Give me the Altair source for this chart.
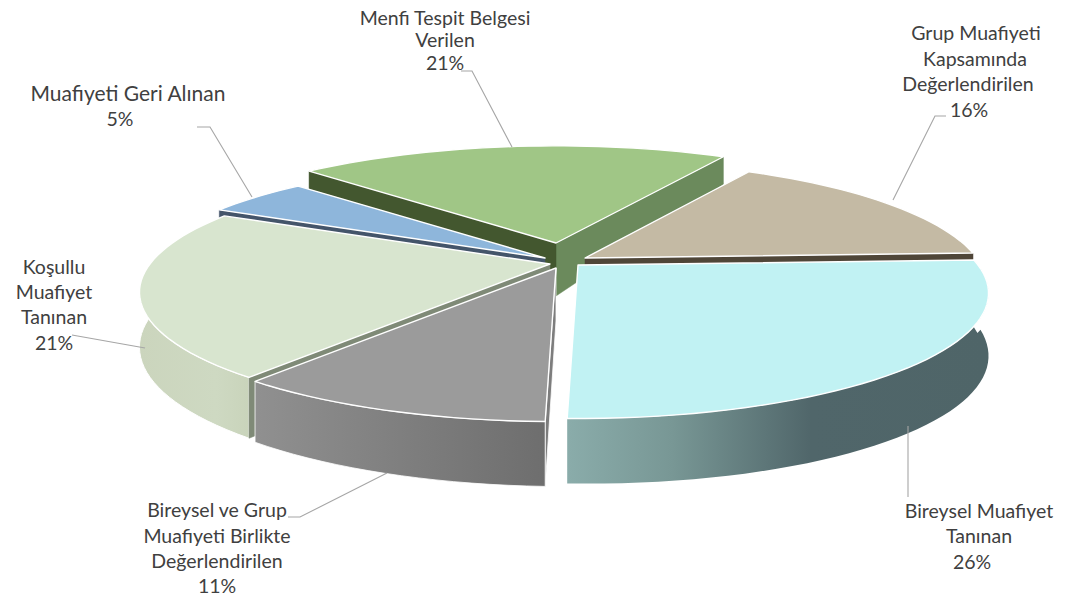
import math
import altair as alt
import pandas as pd

# values (order: clockwise on screen, starting at the Grup slice)
names = ["Grup", "Bireysel", "Gri", "Kosullu", "Mavi", "Menfi"]
shares = [16, 26, 10.3, 21.7, 5, 21]
START = -60.0  # screen angle where Grup starts

# label lines: text, centre x, centre y, font size
label_rows = [
    ("Menfi Tespit Belgesi", 445, 19, 19.5), ("Verilen", 445, 41, 19.5), ("21%", 445, 64, 19.5),
    ("Grup Muafiyeti", 976, 34, 19.5), ("Kapsamında", 975, 60, 19.5),
    ("Değerlendirilen", 968, 85, 19.5), ("16%", 969, 111, 19.5),
    ("Muafiyeti Geri Alınan", 128, 95, 21), ("5%", 120, 120, 19.5),
    ("Koşullu", 54, 268, 19.5), ("Muafiyet", 54, 293, 19.5), ("Tanınan", 54, 318, 19.5), ("21%", 54, 344, 19.5),
    ("Bireysel ve Grup", 217, 511, 19.5), ("Muafiyeti Birlikte", 217, 537, 19.5),
    ("Değerlendirilen", 217, 562, 19.5), ("11%", 217, 587, 19.5),
    ("Bireysel Muafiyet", 979, 512, 19.5), ("Tanınan", 979, 537, 19.5), ("26%", 972, 563, 19.5),
]
leaders = [
    [(461, 71), (472, 71), (512, 147)],
    [(946, 116), (935, 116), (893, 200)],
    [(197, 127), (210, 127), (252, 197)],
    [(72, 335), (145, 348)],
    [(288, 517), (300, 517), (387, 473)],
    [(908, 426), (908, 497)],
]

# drawing parameters of the tilted pie
RX, RY, K = 400.0, 119.0, 0.225
APEX_H = 53
apex = {"Grup": (585, 258), "Menfi": (556, 243), "Mavi": (545, 258),
        "Kosullu": (550, 264), "Gri": (556, 268), "Bireysel": (578, 265)}
radius_x = {"Grup": 392.0}
top_fill = {"Grup": "#c4baa4", "Menfi": "#a0c686", "Mavi": "#8eb6db",
            "Kosullu": "#d8e5cf", "Gri": "#9b9b9b", "Bireysel": "#c1f2f3"}


def grad(stops):
    return alt.Gradient(gradient="linear", x1=0, x2=1, y1=0, y2=0,
                        stops=[alt.GradientStop(offset=o, color=c) for o, c in stops])


# slice angles from shares
angles = {}
a = START
for n, s in zip(names, shares):
    angles[n] = (a, a + s * 3.6)
    a += s * 3.6


def rim(name, t):
    c, s = math.cos(math.radians(t)), math.sin(math.radians(t))
    f = 1 / (1 - K * s)
    ax, ay = apex[name]
    return ax + radius_x.get(name, RX) * c * f, ay + RY * s * f, c, s


def height(u, v):
    if v >= 0:
        return 57 + 8 * v + 4 * u
    return 57 + 41 * v + 12 * u


def rim_pts(name, t0, t1, step=2.0):
    n = max(2, int(abs(t1 - t0) / step) + 1)
    return [rim(name, t0 + (t1 - t0) * i / (n - 1)) for i in range(n)]


def top_poly(name):
    t0, t1 = angles[name]
    return [apex[name]] + [(x, y) for x, y, _, _ in rim_pts(name, t0, t1)]


def arc_wall(name, t0, t1):
    pts = rim_pts(name, t0, t1)
    up = [(x, y) for x, y, _, _ in pts]
    down = [(x, y + height(u, v)) for x, y, u, v in reversed(pts)]
    return up + down


def radial_wall(name, t):
    x, y, u, v = rim(name, t)
    ax, ay = apex[name]
    return [(ax, ay), (x, y), (x, y + height(u, v)), (ax, ay + APEX_H)]


def piece(poly, fill, stroke="#ffffff", sw=1.4):
    df = pd.DataFrame({"x": [p[0] for p in poly], "y": [p[1] for p in poly],
                       "o": list(range(len(poly)))})
    mark = alt.Chart(df).mark_line(interpolate="linear-closed", fill=fill,
                                   stroke=stroke, strokeWidth=sw, strokeJoin="round")
    return mark.encode(x=X, y=Y, order="o:Q")


X = alt.X("x:Q", scale=alt.Scale(domain=[8, 1076], nice=False, zero=False), axis=None)
Y = alt.Y("y:Q", scale=alt.Scale(domain=[596, 8], nice=False, zero=False), axis=None)

layers = []
# Menfi
m0, m1 = angles["Menfi"]
layers += [piece(radial_wall("Menfi", m1), "#6b8a5c", stroke="#6b8a5c", sw=0.5),
           piece(radial_wall("Menfi", m0), "#43572f", stroke="#43572f", sw=0.5),
           piece(top_poly("Menfi"), top_fill["Menfi"])]
# Grup
g0, g1 = angles["Grup"]
layers += [piece(radial_wall("Grup", g1), "#4f4638", stroke="#4f4638", sw=0.5),
           piece(top_poly("Grup"), top_fill["Grup"])]
# Mavi
v0, v1 = angles["Mavi"]
layers += [piece(radial_wall("Mavi", v0), "#44556a", stroke="#44556a", sw=0.5),
           piece(top_poly("Mavi"), top_fill["Mavi"])]
# Kosullu
k0, k1 = angles["Kosullu"]
layers += [piece(arc_wall("Kosullu", k0, 195), grad([(0, "#cbd5bd"), (0.7, "#ced9c2"), (1, "#c9d4bb")]), sw=1),
           piece(radial_wall("Kosullu", k0), "#7f8a77", stroke="#7f8a77", sw=0.5),
           piece(top_poly("Kosullu"), top_fill["Kosullu"])]
# Bireysel
b0, b1 = angles["Bireysel"]
layers += [piece(arc_wall("Bireysel", b0, b1),
                 grad([(0, "#8aacaa"), (0.25, "#789795"), (0.58, "#50666a"), (1, "#4f6568")]), sw=0),
           piece(top_poly("Bireysel"), top_fill["Bireysel"])]
# Gri
r0, r1 = angles["Gri"]
layers += [piece(radial_wall("Gri", r0), "#7d7d7d", sw=0.8),
           piece(arc_wall("Gri", r0, r1), grad([(0, "#909090"), (1, "#6e6e6e")]), sw=0.8),
           piece(top_poly("Gri"), top_fill["Gri"])]

# leader lines
for i, pts in enumerate(leaders):
    df = pd.DataFrame({"x": [p[0] for p in pts], "y": [p[1] for p in pts], "o": list(range(len(pts)))})
    layers.append(alt.Chart(df).mark_line(color="#a6a6a6", strokeWidth=1.1).encode(x=X, y=Y, order="o:Q"))

# text labels
for size in sorted({r[3] for r in label_rows}):
    rows = [{"x": r[1], "y": r[2], "t": r[0]} for r in label_rows if r[3] == size]
    layers.append(alt.Chart(pd.DataFrame(rows)).mark_text(
        font="Lato", fontSize=size, color="#404040", align="center", baseline="middle"
    ).encode(x=X, y=Y, text="t:N"))

chart = alt.layer(*layers).properties(
    width=1068, height=588, padding=0, autosize=alt.AutoSizeParams(type="none"), background="#ffffff"
).configure_view(stroke=None)

chart.save("out.html", embed_options={"renderer": "svg", "actions": False})
